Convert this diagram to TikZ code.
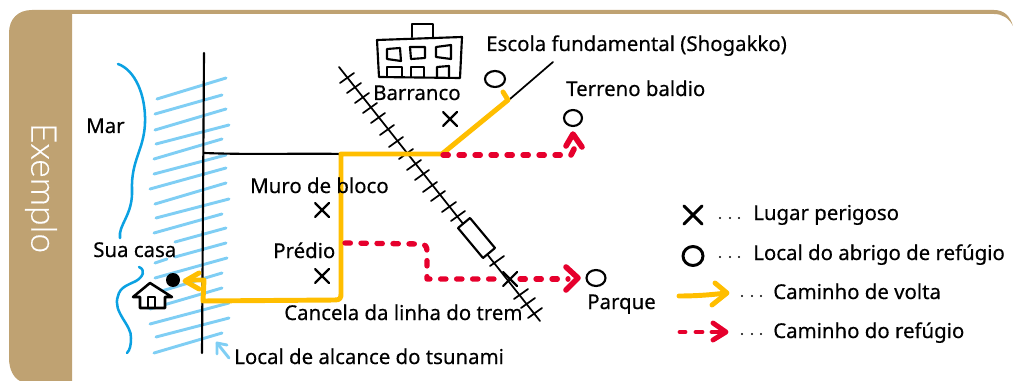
\documentclass[tikz,border=0pt]{standalone}
\usepackage{fontspec}
\setmainfont{Noto Sans}[FakeBold=0.45]
\newfontfamily\sidefont{Lato Light}[FakeBold=0.3]
\definecolor{tan}{HTML}{BFA272}
\definecolor{sky}{HTML}{7FCEF4}
\definecolor{sea}{HTML}{0BA1E2}
\definecolor{ylw}{HTML}{FFBE00}
\definecolor{rd}{HTML}{E6002D}
\tikzset{
 lbl/.style={anchor=base west,inner sep=0pt,font=\fontsize{15.3}{18}\selectfont},
 hatch/.style={sky,line width=2.2pt,line cap=round},
 ink/.style={black,line width=1.6pt,line cap=round,line join=round},
 thin ink/.style={black,line width=1.3pt,line cap=round,line join=round},
 yroute/.style={ylw,line width=3.7pt,line cap=round,line join=round},
 rroute/.style={rd,line width=4pt,line cap=round,line join=round,dash pattern=on 4pt off 8pt},
 rhead/.style={rd,line width=4.2pt,line cap=round,line join=round}
}
\begin{document}
\begin{tikzpicture}[x=0.75pt,y=-0.75pt]
\useasboundingbox (0,0) rectangle (1013,381);
% frame
\fill[tan] (1013,26) .. controls (1010,16) and (1004,10) .. (994,10) -- (32,10)
  .. controls (18,10) and (9,19) .. (9,33) -- (9,358)
  .. controls (9,370) and (14,378) .. (20,381) -- (72,381) -- (72,14) -- (994,14)
  .. controls (1002,14) and (1009,18) .. (1013,26) -- cycle;
\node[rotate=-90,inner sep=0pt,text=white,font=\sidefont\fontsize{26.5}{30}\selectfont] (side) at (41,188) {Exemplo};
% tsunami hatch
\foreach \a/\b/\c/\d in {157/99/226/78,155/114/222/95,155/130/226/109,156/144/229/125,154/159/222/139,154/174/226/155,150/189/226/168,155/204/226/183,156/218/229/199,154/233/222/214,175/242/226/228,155/263/167/259,175/257/226/243,155/278/227/258,155/293/222/273,150/309/222/288,150/324/229/303,156/337/229/318,154/353/222/333}
  \draw[hatch] (\a,\b) -- (\c,\d);
\draw[sky,line width=2.2pt,line cap=round,line join=round] (217,354) -- (217,343) -- (227,345);
\draw[sky,line width=2.2pt,line cap=round] (217,343) -- (229,358);
% sea
\draw[sea,line width=1.9pt,line cap=round] (118,64) .. controls (135,70) and (146,95) .. (145,123)
  .. controls (144,150) and (131,160) .. (132,190) .. controls (133,215) and (118,225) .. (120,238);
\draw[sea,line width=1.9pt,line cap=round] (139,267) .. controls (146,270) and (143,277) .. (136,281)
  .. controls (128,285) and (120,287) .. (118,296) .. controls (112,312) and (132,325) .. (131,338) .. controls (131,345) and (130,350) .. (127,353);
% roads
\draw[ink] (204,53) -- (202,353);
\draw[ink] (204,153) .. controls (260,155) and (300,153) .. (341,154);
\draw[thin ink] (510,99) -- (553,62);
% house
\draw[ink,line width=1.9pt,fill=white] (133,297) -- (150,283) -- (172,297) -- (165,297) -- (165,308) -- (140,308) -- (140,297) -- cycle;
\draw[ink,line width=1.9pt] (148,308) -- (148,297) -- (155,297) -- (155,308);
\fill (173,280) circle (7);
% railway
\draw[thin ink] (339,67) -- (540,321);
\foreach \x/\y in {347/78,354/88,362/98,370/108,378/118,387/130,396/142,406/154,414/165,422/175,430/187,438/196,449/207,458/216,497/261,521/294,528/303,535/313}
  \draw[thin ink] (\x-7,\y+5) -- (\x+7,\y-5);
\draw[ink,fill=white] (470,218) -- (495,248) -- (483,258) -- (458,228) -- cycle;
\draw[ink] (503,286) -- (517,272) (503,272) -- (517,286);
% school
\draw[ink] (377,40) -- (462,37) -- (460,78) -- (379,77) -- cycle;
\draw[ink] (412,37) -- (412,24) -- (433,24) -- (433,37);
\draw[ink] (387,49) -- (400,48) -- (401,61) -- (387,59) -- cycle;
\draw[ink] (410,47) -- (425,47) -- (425,58) -- (411,59) -- cycle;
\draw[ink] (436,47) -- (451,45) -- (451,59) -- (436,57) -- cycle;
\draw[ink] (387,77) -- (387,67) -- (402,67) -- (402,77);
\draw[ink] (411,77) -- (411,67) -- (424,67) -- (424,77);
\draw[ink] (437,77) -- (437,67) -- (449,66) -- (449,77);
% shelter circles and danger marks
\draw[ink] (495,79) ellipse (10 and 8);
\draw[ink] (573,118) ellipse (9 and 8);
\draw[ink] (596,278) ellipse (9.5 and 8);
\foreach \x/\y in {450/119,322/210,322/276}
  \draw[ink] (\x-7,\y-7) -- (\x+7,\y+7) (\x-7,\y+7) -- (\x+7,\y-7);
% yellow route
\draw[yroute] (188,280) -- (204,280) -- (203,301) -- (335,300) .. controls (340,300) and (341,298) .. (341,294) -- (341,154) -- (442,154) -- (508,100) -- (503,92);
\draw[yroute] (199,273) -- (185,281) -- (199,289);
% red routes
\draw[rroute] (345,243) -- (420,244) .. controls (426,244) and (427,247) .. (427,252) -- (427,279) -- (497,279);
\draw[rroute] (520,279) -- (568,279);
\draw[rhead] (566,267) -- (578,278) -- (566,290);
\draw[rroute] (443,155) -- (562,155);
\draw[rhead] (571,155) -- (574,149);
\draw[rhead] (566,146) -- (573,134) -- (582,147);
% labels
\node[lbl] (l1) at (486,51) {Escola fundamental (Shogakko)};
\node[lbl] (l2) at (566,96) {Terreno baldio};
\node[lbl] (l3) at (373,100) {Barranco};
\node[lbl] (l4) at (86,133) {Mar};
\node[lbl] (l5) at (250,193) {Muro de bloco};
\node[lbl] (l6) at (273,258) {Prédio};
\node[lbl] (l7) at (93,257) {Sua casa};
\node[lbl] (l8) at (284,320) {Cancela da linha do trem};
\node[lbl] (l9) at (587,309) {Parque};
\node[lbl] (l10) at (234,364) {Local de alcance do tsunami};
% legend
\draw[black,line width=2.2pt,line cap=round] (684,206) -- (702,224) (684,224) -- (702,206);
\draw[black,line width=2.2pt] (693,256) ellipse (10 and 9.5);
\draw[ylw,line width=3.7pt,line cap=round,line join=round] (679,296) .. controls (695,296) and (710,295) .. (726,293);
\draw[ylw,line width=3.7pt,line cap=round,line join=round] (715,283) -- (727,293) -- (712,305);
\draw[rd,line width=3.7pt,line cap=round] (680,332) -- (685,332) (696,332) -- (702,332) (712,332) -- (725,332);
\draw[rd,line width=3.7pt,line cap=round,line join=round] (713,323) -- (726,332) -- (713,340);
\foreach \x in {720,730,739} { \fill (\x,218) circle (1.2); \fill (\x,257) circle (1.2); }
\foreach \x in {742,752,761} { \fill (\x,296) circle (1.2); \fill (\x,334) circle (1.2); }
\node[lbl] (k1) at (753,220) {Lugar perigoso};
\node[lbl] (k2) at (753,260) {Local do abrigo de refúgio};
\node[lbl] (k3) at (773,299) {Caminho de volta};
\node[lbl] (k4) at (773,338) {Caminho do refúgio};
\end{tikzpicture}
\end{document}
